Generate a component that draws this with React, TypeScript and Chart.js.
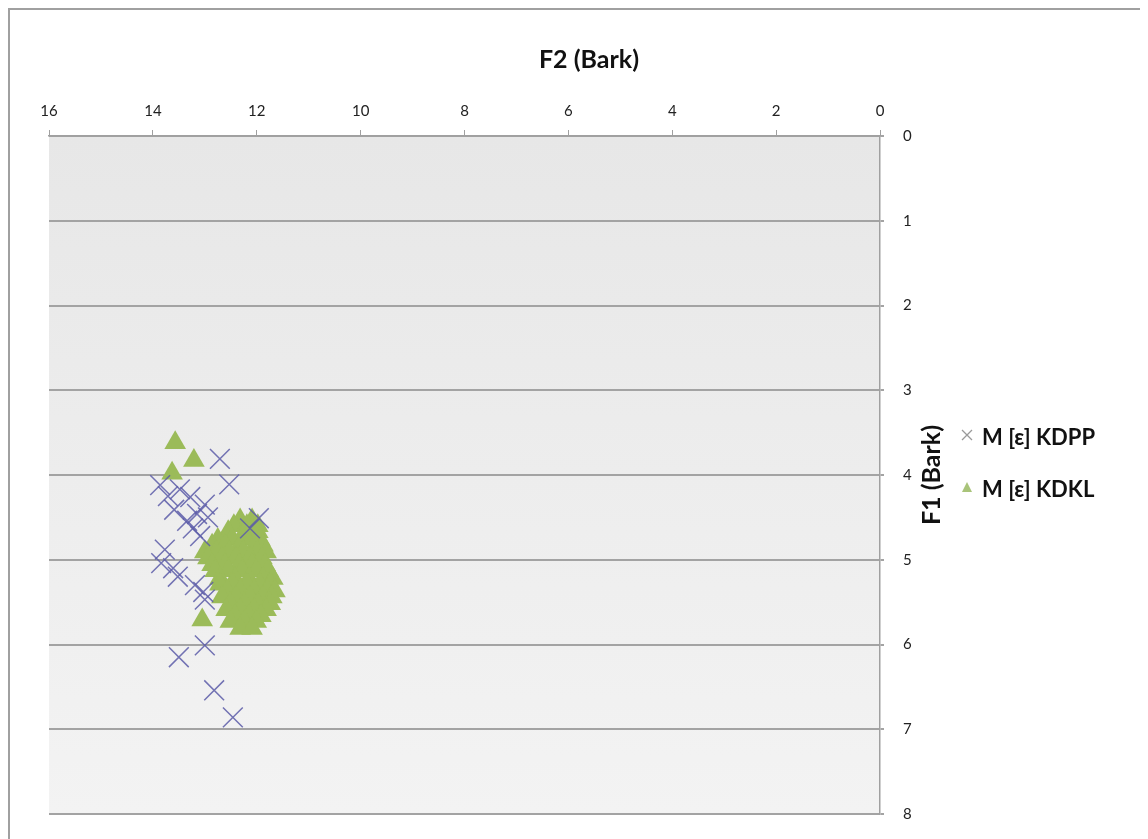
import React, { useEffect, useRef } from "react";
import { Chart, registerables } from "chart.js";

Chart.register(...registerables);

// ---- Data ----
const seriesNames = ["M [ε] KDPP", "M [ε] KDKL"];
const xTitle = "F2 (Bark)";
const yTitle = "F1 (Bark)";

const kdppF2 = [12.71, 12.53, 13.86, 13.48, 13.71, 13.28, 13.0, 13.59, 13.15, 13.34, 12.94, 13.23, 13.09, 11.96, 12.13, 13.77, 13.84, 13.61, 13.52, 13.19, 13.03, 13.0, 13.0, 13.5, 12.82, 12.46];
const kdppF1 = [3.81, 4.11, 4.12, 4.17, 4.25, 4.26, 4.35, 4.41, 4.46, 4.54, 4.5, 4.63, 4.72, 4.51, 4.63, 4.88, 5.04, 5.1, 5.2, 5.3, 5.38, 5.47, 6.01, 6.15, 6.54, 6.86];

const kdklF2 = [
  13.57, 13.21, 13.63, 13.05,
  12.32, 12.09,
  12.44, 12.19, 11.98,
  12.55, 12.23, 11.98,
  12.75, 12.48, 12.19, 11.94,
  12.86, 12.61, 12.32, 12.03, 11.88,
  13.0, 12.78, 12.53, 12.26, 11.99, 11.82,
  12.94, 12.67, 12.4, 12.13, 11.9,
  12.86, 12.61, 12.34, 12.09, 11.84,
  12.8, 12.55, 12.28, 12.01, 11.78,
  12.71, 12.42, 12.15, 11.88, 11.69,
  12.71, 12.46, 12.19, 11.94, 11.74,
  12.57, 12.32, 12.05, 11.8, 11.65,
  12.67, 12.4, 12.13, 11.88, 11.71,
  12.51, 12.24, 11.98, 11.74,
  12.59, 12.32, 12.05, 11.82,
  12.42, 12.15, 11.92,
  12.51, 12.24, 12.01,
  12.32, 12.09,
];
const kdklF1 = [
  3.62, 3.83, 3.98, 5.71,
  4.53, 4.53,
  4.6, 4.6, 4.6,
  4.67, 4.67, 4.67,
  4.76, 4.76, 4.76, 4.76,
  4.83, 4.83, 4.83, 4.83, 4.83,
  4.91, 4.91, 4.91, 4.91, 4.91, 4.91,
  4.98, 4.98, 4.98, 4.98, 4.98,
  5.06, 5.06, 5.06, 5.06, 5.06,
  5.13, 5.13, 5.13, 5.13, 5.13,
  5.22, 5.22, 5.22, 5.22, 5.22,
  5.29, 5.29, 5.29, 5.29, 5.29,
  5.37, 5.37, 5.37, 5.37, 5.37,
  5.44, 5.44, 5.44, 5.44, 5.44,
  5.52, 5.52, 5.52, 5.52,
  5.59, 5.59, 5.59, 5.59,
  5.66, 5.66, 5.66,
  5.73, 5.73, 5.73,
  5.81, 5.81,
];

const xTicks = { min: 0, max: 16, step: 2 };
const yTicks = { min: 0, max: 8, step: 1 };

const crossColor = "rgba(92, 92, 168, 0.85)";
const triColor = "#9bbb59";
const FONT = "Lato, 'Open Sans', sans-serif";

const toPoints = (xs: number[], ys: number[]) => xs.map((x, i) => ({ x, y: ys[i] }));

const decorPlugin = {
  id: "decor",
  beforeDraw(chart: any) {
    const { ctx, chartArea: a } = chart;
    const g = ctx.createLinearGradient(0, a.top, 0, a.bottom);
    g.addColorStop(0, "#e7e7e7");
    g.addColorStop(1, "#f3f3f3");
    ctx.save();
    ctx.fillStyle = g;
    ctx.fillRect(a.left, a.top, a.right - a.left, a.bottom - a.top);
    ctx.restore();
  },
  afterDraw(chart: any) {
    const { ctx } = chart;
    ctx.save();
    ctx.fillStyle = "#111";
    ctx.font = `bold 25px ${FONT}`;
    ctx.textAlign = "center";
    ctx.textBaseline = "middle";
    ctx.fillText(xTitle, 579, 50);
    ctx.save();
    ctx.translate(922, 465);
    ctx.rotate(-Math.PI / 2);
    ctx.fillText(yTitle, 0, 0);
    ctx.restore();

    // legend
    const lx = 957;
    const rows = [425, 478];
    ctx.strokeStyle = "#9a9a9a";
    ctx.lineWidth = 1.3;
    ctx.beginPath();
    ctx.moveTo(lx - 5, rows[0] - 5);
    ctx.lineTo(lx + 5, rows[0] + 5);
    ctx.moveTo(lx - 5, rows[0] + 5);
    ctx.lineTo(lx + 5, rows[0] - 5);
    ctx.stroke();
    ctx.fillStyle = "#a9c47a";
    ctx.beginPath();
    ctx.moveTo(lx, rows[1] - 6);
    ctx.lineTo(lx + 5, rows[1] + 4);
    ctx.lineTo(lx - 5, rows[1] + 4);
    ctx.closePath();
    ctx.fill();

    ctx.fillStyle = "#111";
    ctx.font = `bold 22px ${FONT}`;
    ctx.textAlign = "left";
    ctx.fillText(seriesNames[0], 972, rows[0] + 3);
    ctx.fillText(seriesNames[1], 972, rows[1] + 2);
    ctx.restore();
  },
};

export default function App() {
  const ref = useRef<HTMLCanvasElement | null>(null);

  useEffect(() => {
    if (!ref.current) return;
    const chart = new Chart(ref.current, {
      type: "scatter",
      data: {
        datasets: [
          {
            label: seriesNames[0],
            data: toPoints(kdppF2, kdppF1),
            pointStyle: "crossRot",
            pointRadius: 14,
            borderColor: crossColor,
            backgroundColor: crossColor,
            pointBorderWidth: 1.5,
          },
          {
            label: seriesNames[1],
            data: toPoints(kdklF2, kdklF1),
            pointStyle: "triangle",
            pointRadius: 12.5,
            borderColor: triColor,
            backgroundColor: triColor,
            pointBorderWidth: 0,
          },
        ],
      },
      options: {
        responsive: false,
        animation: false,
        devicePixelRatio: 1,
        events: [],
        layout: { padding: { left: 39, right: 0, top: 0, bottom: 37 } },
        plugins: {
          legend: { display: false },
          tooltip: { enabled: false },
        },
        scales: {
          x: {
            type: "linear",
            position: "top",
            reverse: true,
            min: xTicks.min,
            max: xTicks.max,
            ticks: {
              stepSize: xTicks.step,
              color: "#222",
              font: { family: FONT, size: 15 },
              padding: 10,
            },
            grid: { drawOnChartArea: false, tickLength: 6, color: "#a0a0a0" },
            border: { color: "#a0a0a0", width: 1.5 },
            afterFit: (s: any) => {
              s.height = 126;
            },
          },
          y: {
            type: "linear",
            position: "right",
            reverse: true,
            min: yTicks.min,
            max: yTicks.max,
            ticks: {
              stepSize: yTicks.step,
              color: "#222",
              font: { family: FONT, size: 15 },
              padding: 19,
            },
            grid: { color: "#a3a3a3", lineWidth: 2, tickLength: 4 },
            border: { color: "#a0a0a0", width: 1.5 },
            afterFit: (s: any) => {
              s.width = 260;
            },
          },
        },
      },
      plugins: [decorPlugin],
    });
    return () => chart.destroy();
  }, []);

  return (
    <div
      style={{
        width: 1134,
        height: 845,
        border: "2px solid #a0a0a0",
        boxSizing: "border-box",
        background: "#fff",
      }}
    >
      <canvas ref={ref} width={1130} height={841} style={{ display: "block" }} />
    </div>
  );
}
